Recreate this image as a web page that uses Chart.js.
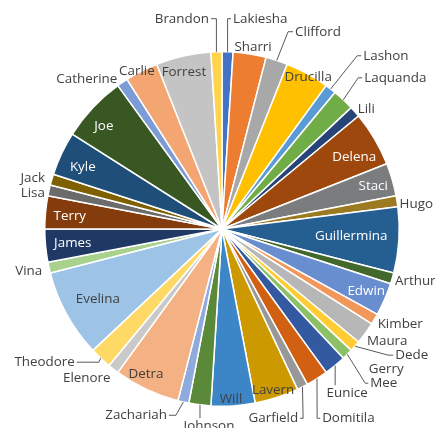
<!DOCTYPE html>
<html><head><meta charset="utf-8">
<script src="https://cdn.jsdelivr.net/npm/chart.js@4.4.1/dist/chart.umd.min.js"></script>
<style>html,body{margin:0;padding:0;background:#fff;overflow:hidden}canvas{display:block}</style>
</head><body>
<canvas id="c" width="435" height="428"></canvas>
<script>
const names = ["Lakiesha","Sharri","Clifford","Drucilla","Lashon","Laquanda","Lili","Delena","Staci","Hugo",
  "Guillermina","Arthur","Edwin","Kimber","Maura","Dede","Gerry","Mee","Eunice","Domitila",
  "Garfield","Lavern","Will","Johnson","Zachariah","Detra","Elenore","Theodore","Evelina","Vina",
  "James","Terry","Lisa","Jack","Kyle","Joe","Catherine","Carlie","Forrest","Brandon"];
const values = [1,3,2,4,1,2,1,5,3,1,
  6,1,3,1,2,1,0,1,2,2,
  1,4,4,2,1,6,1,2,8,1,
  3,3,1,1,4,6,1,3,5,1];
const colors = ["#4472C4","#ED7D31","#A8A8A8","#FFC000","#5B9BD5","#70AD47","#264478","#9E480E","#7B7C7E","#9C7A22",
  "#255E91","#43682B","#698ED0","#F1975A","#B7B7B7","#FFCD33","#7CAFDD","#8CC168","#335AA1","#D26012",
  "#989898","#CC9A00","#3C86C8","#5A8A39","#8FAADC","#F4B183","#C9C9C9","#FFD966","#9DC3E6","#A9D18E",
  "#203864","#843C0C","#6B6B6B","#7F6000","#1F4E79","#385723","#7C9CD6","#F4A672","#C4C4C4","#FFD34D"];

const DARK = "#404040", LIGHT = "#FFFFFF";
// label placement relative to pie centre (reference radius 177)
const REF_R = 177;
const labelLayout = {
  Lakiesha:{dx:11,dy:-210,align:"left",elbow:5.6},
  Sharri:{dx:31,dy:-182},
  Clifford:{dx:73,dy:-197,align:"left",elbow:66},
  Drucilla:{dx:86,dy:-152},
  Lashon:{dx:141,dy:-173,align:"left",elbow:135},
  Laquanda:{dx:142,dy:-151,align:"left",elbow:136},
  Lili:{dx:144,dy:-120},
  Delena:{dx:132,dy:-72,color:LIGHT},
  Staci:{dx:151,dy:-43,color:LIGHT},
  Hugo:{dx:194,dy:-25},
  Guillermina:{dx:129,dy:7,color:LIGHT},
  Arthur:{dx:193,dy:52},
  Edwin:{dx:144,dy:62,color:LIGHT},
  Kimber:{dx:178,dy:95},
  Maura:{dx:165,dy:112},
  Dede:{dx:173,dy:126,align:"left",elbow:166},
  Gerry:{dx:164,dy:140},
  Mee:{dx:148,dy:154,align:"left",elbow:143},
  Eunice:{dx:125,dy:164,top:113},
  Domitila:{dx:100,dy:189,align:"left",elbow:95},
  Garfield:{dx:76,dy:189,align:"right",elbow:81},
  Lavern:{dx:51,dy:161},
  Will:{dx:9,dy:170},
  Johnson:{dx:-13,dy:197,top:-22},
  Zachariah:{dx:-55,dy:186,align:"right",elbow:-46},
  Detra:{dx:-76,dy:145},
  Elenore:{dx:-135,dy:149},
  Theodore:{dx:-147,dy:133,align:"right",elbow:-123},
  Evelina:{dx:-124,dy:70},
  Vina:{dx:-193,dy:42},
  James:{dx:-149,dy:14,color:LIGHT},
  Terry:{dx:-152,dy:-13,color:LIGHT},
  Lisa:{dx:-189,dy:-36},
  Jack:{dx:-189,dy:-51},
  Kyle:{dx:-139,dy:-62,color:LIGHT},
  Joe:{dx:-118,dy:-103,color:LIGHT},
  Catherine:{dx:-135,dy:-150},
  Carlie:{dx:-85,dy:-158},
  Forrest:{dx:-38,dy:-157},
  Brandon:{dx:-13,dy:-210,align:"right",elbow:-5.6}
};

const labelPlugin = {
  id: "pieLabels",
  afterDatasetsDraw(chart) {
    const ctx = chart.ctx;
    const meta = chart.getDatasetMeta(0);
    ctx.save();
    ctx.font = "13.4px 'Open Sans'";
    ctx.textBaseline = "middle";
    meta.data.forEach((arc, i) => {
      const name = chart.data.labels[i];
      const L = labelLayout[name];
      if (!L) return;
      const R = arc.outerRadius, cx = arc.x, cy = arc.y;
      const s = R / REF_R;
      const tx = cx + L.dx * s, ty = cy + L.dy * s;
      const mid = (arc.startAngle + arc.endAngle) / 2;
      const rx = cx + R * Math.cos(mid), ry = cy + R * Math.sin(mid);
      const align = L.align || "center";
      ctx.strokeStyle = "#595959";
      ctx.lineWidth = 1;
      if (L.elbow !== undefined) {
        const ex = cx + L.elbow * s;
        const edge = align === "left" ? tx - 2 : tx + 2;
        ctx.beginPath();
        ctx.moveTo(edge, ty);
        ctx.lineTo(ex, ty);
        ctx.lineTo(rx, ry);
        ctx.stroke();
      } else if (L.top !== undefined) {
        const lx = cx + L.top * s;
        ctx.beginPath();
        ctx.moveTo(lx, ry);
        ctx.lineTo(lx, ty - 8);
        ctx.stroke();
      }
      ctx.fillStyle = L.color || DARK;
      ctx.textAlign = align;
      ctx.fillText(name, tx, ty);
    });
    ctx.restore();
  }
};

new Chart(document.getElementById("c"), {
  type: "pie",
  data: {
    labels: names,
    datasets: [{
      data: values,
      backgroundColor: colors,
      borderColor: "#FFFFFF",
      borderWidth: 1.5,
      hoverBorderWidth: 1.5
    }]
  },
  options: {
    responsive: false,
    animation: false,
    layout: { padding: { left: 44, right: 35, top: 51, bottom: 21 } },
    plugins: { legend: { display: false }, tooltip: { enabled: false } },
    events: []
  },
  plugins: [labelPlugin]
});
</script>
</body></html>
